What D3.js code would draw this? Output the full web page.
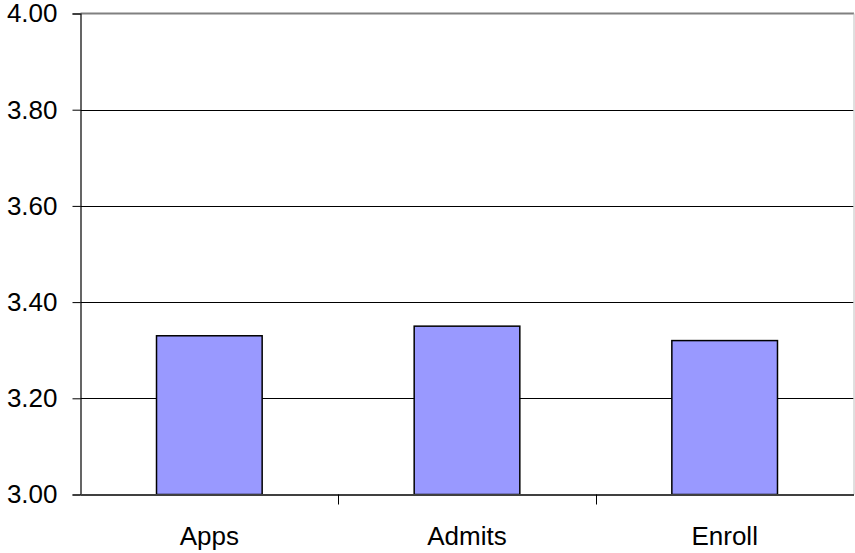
<!DOCTYPE html>
<html>
<head>
<meta charset="utf-8">
<script src="https://cdn.jsdelivr.net/npm/d3@7"></script>
<style>
  html, body { margin: 0; padding: 0; background: #ffffff; }
  svg { display: block; }
</style>
</head>
<body>
<svg id="chart" width="855" height="553"></svg>
<script>
const categories = ["Apps", "Admits", "Enroll"];
const values = [3.33, 3.35, 3.32];
const yTicks = [3.00, 3.20, 3.40, 3.60, 3.80, 4.00];

(function () {
const svg = d3.select("#chart");
const pLeft = 80.5, pRight = 853.5, pTop = 13.5, pBottom = 494.5;
const font = "'Liberation Sans', Arial, sans-serif";

const x = d3.scaleBand().domain(categories).range([pLeft, pRight]).paddingInner(0.59).paddingOuter(0.295);
const xb = d3.scaleBand().domain(categories).range([pLeft, pRight]);
const y = d3.scaleLinear().domain([3.0, 4.0]).range([pBottom, pTop]);

// gridlines
svg.append("g").selectAll("line").data(yTicks.filter(t => t > 3.0 && t < 4.0)).join("line")
  .attr("x1", pLeft).attr("x2", pRight)
  .attr("y1", d => Math.round(y(d)) + 0.5).attr("y2", d => Math.round(y(d)) + 0.5)
  .attr("stroke", "#000").attr("stroke-width", 1);

// plot border top and right
svg.append("line").attr("x1", pLeft).attr("x2", pRight + 0.5).attr("y1", pTop).attr("y2", pTop)
  .attr("stroke", "#808080").attr("stroke-width", 2);
svg.append("line").attr("x1", pRight + 0.5).attr("x2", pRight + 0.5).attr("y1", pTop).attr("y2", pBottom)
  .attr("stroke", "#c0c0c0").attr("stroke-width", 1);

// bars
svg.append("g").selectAll("rect").data(categories).join("rect")
  .attr("x", d => x(d))
  .attr("y", (d, i) => y(values[i]))
  .attr("width", x.bandwidth())
  .attr("height", (d, i) => pBottom - y(values[i]))
  .attr("fill", "#9999ff")
  .attr("stroke", "#000")
  .attr("stroke-width", 1.5);

// y axis
const yAxis = d3.axisLeft(y).tickValues(yTicks).tickFormat(d3.format(".2f")).tickSize(8).tickPadding(15);
const gy = svg.append("g").attr("transform", `translate(${pLeft},0)`).call(yAxis);
gy.select(".domain").attr("stroke", "#000").attr("stroke-width", 1.2);
gy.selectAll(".tick line").attr("stroke", "#000");
gy.selectAll(".tick text").attr("font-family", font).attr("font-size", 26).attr("fill", "#000");

// x axis
const xAxis = d3.axisBottom(xb).tickSize(0).tickPadding(0);
const gx = svg.append("g").attr("transform", `translate(0,${pBottom})`).call(xAxis);
gx.select(".domain").attr("stroke", "#404040").attr("stroke-width", 2);
gx.selectAll(".tick text").attr("font-family", font).attr("font-size", 26).attr("fill", "#000")
  .attr("dy", 0).attr("y", 50);

// category separator ticks
const seps = categories.slice(1).map(c => xb(c));
svg.append("g").selectAll("line").data(seps).join("line")
  .attr("x1", d => Math.round(d) + 0.5).attr("x2", d => Math.round(d) + 0.5)
  .attr("y1", pBottom).attr("y2", pBottom + 10)
  .attr("stroke", "#000").attr("stroke-width", 1);
})();
</script>
</body>
</html>
